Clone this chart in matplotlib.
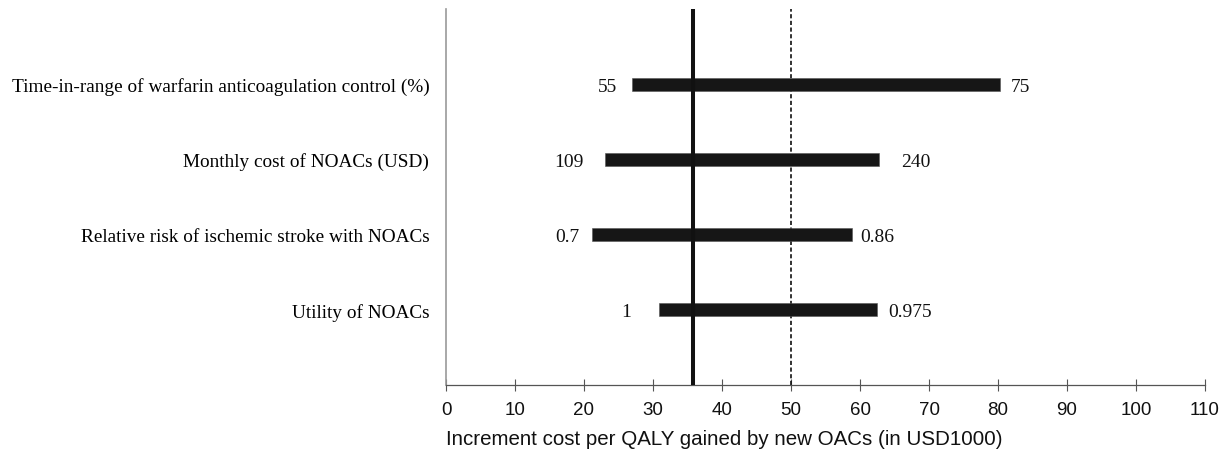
import matplotlib
matplotlib.use('Agg')
import matplotlib.pyplot as plt

# ---- data ----
categories = ["Time-in-range of warfarin anticoagulation control (%)",
              "Monthly cost of NOACs (USD)",
              "Relative risk of ischemic stroke with NOACs",
              "Utility of NOACs"]
low_icer = [26.9, 23.1, 21.1, 30.8]
high_icer = [80.3, 62.8, 58.9, 62.5]
low_labels = ["55", "109", "0.7", "1"]
high_labels = ["75", "240", "0.86", "0.975"]
base_icer = 35.75
wtp_threshold = 50
xticks = list(range(0, 111, 10))
xlabel = "Increment cost per QALY gained by new OACs (in USD1000)"

# ---- layout/style ----
W, H = 1228, 452
fig = plt.figure(figsize=(W / 100, H / 100), dpi=100)
ax = fig.add_axes([446 / W, 1 - 386 / H, (1205 - 446) / W, (386 - 10) / H])

serif = 'Liberation Serif'
sans = 'Liberation Sans'

n = len(categories)
ypos = [n - i for i in range(n)]
widths = [h - l for l, h in zip(low_icer, high_icer)]
ax.barh(ypos, widths, left=low_icer, height=0.17, color='#161616',
        edgecolor='#555555', linewidth=0.4, zorder=3)

ax.axvline(base_icer, color='#111111', linewidth=2.9, zorder=4)
ax.axvline(wtp_threshold, color='#111111', linewidth=1.2,
           linestyle=(0, (2.5, 1.5)), zorder=2)

left_gaps = [14, 22, 12, 27]
right_gaps = [11, 22, 8, 11]
for i in range(n):
    ax.annotate(low_labels[i], xy=(low_icer[i], ypos[i]),
                xytext=(-left_gaps[i], -6.5), textcoords='offset pixels',
                ha='right', va='baseline', fontsize=14, family=serif,
                color='#111111')
    ax.annotate(high_labels[i], xy=(high_icer[i], ypos[i]),
                xytext=(right_gaps[i], -6.5), textcoords='offset pixels',
                ha='left', va='baseline', fontsize=14, family=serif,
                color='#111111')

ax.set_xlim(0, 110)
ax.set_ylim(0, 5)
ax.set_xticks(xticks)
ax.set_xticklabels([str(t) for t in xticks], family=sans, fontsize=13.5)
ax.set_yticks(ypos)
ax.set_yticklabels(categories, family=serif, fontsize=13.9)
ax.tick_params(axis='y', length=0, pad=12)
ax.tick_params(axis='x', direction='inout', length=8.6, width=0.8,
               color='#555555', pad=7, labelcolor='#111111')
ax.set_xlabel(xlabel, family=sans, fontsize=14.8, labelpad=8,
              color='#111111', loc='left')

for s in ['top', 'right']:
    ax.spines[s].set_visible(False)
ax.spines['left'].set_color('#999999')
ax.spines['left'].set_linewidth(1.2)
ax.spines['bottom'].set_color('#555555')
ax.spines['bottom'].set_linewidth(0.9)

fig.savefig('out.png', dpi=100)
